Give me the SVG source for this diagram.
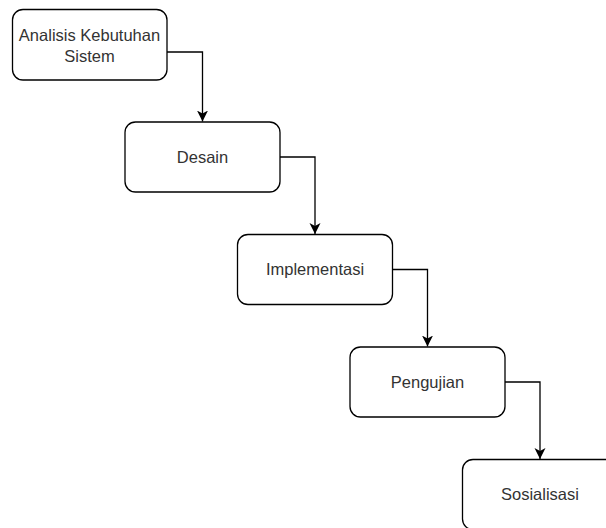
<svg xmlns="http://www.w3.org/2000/svg" width="606" height="528" viewBox="0 0 606 528">
<defs>
<style>
.box{fill:#fff;stroke:#000;stroke-width:1.3}
.lbl{font-family:"Liberation Sans",Arial,sans-serif;font-size:16.5px;fill:#333;text-anchor:middle}
.edge{fill:none;stroke:#000;stroke-width:1.3}
</style>
<marker id="arr" markerUnits="userSpaceOnUse" markerWidth="14" markerHeight="14" viewBox="0 0 14 14" refX="11" refY="7" orient="auto">
<path d="M0,1.5 L11,7 L0,12.5 L3,7 Z" fill="#000"/>
</marker>
</defs>
<rect width="606" height="528" fill="#fff"/>
<g id="n1"><rect class="box" x="12.5" y="9.5" width="154.5" height="70.5" rx="10.5"/><text class="lbl" x="89.5" y="41">Analisis Kebutuhan</text><text class="lbl" x="89.5" y="61.5">Sistem</text></g>
<g id="n2"><rect class="box" x="125" y="122" width="155" height="70" rx="10.5"/><text class="lbl" x="202.5" y="162.5">Desain</text></g>
<g id="n3"><rect class="box" x="237.5" y="234.5" width="155" height="70" rx="10.5"/><text class="lbl" x="315" y="275">Implementasi</text></g>
<g id="n4"><rect class="box" x="350" y="347" width="155" height="70" rx="10.5"/><text class="lbl" x="427.5" y="387.5">Pengujian</text></g>
<g id="n5"><rect class="box" x="462.5" y="459.5" width="155" height="70" rx="10.5"/><text class="lbl" x="540" y="500">Sosialisasi</text></g>
<g id="edges">
<path class="edge" d="M167,52 H202.5 V121.5" marker-end="url(#arr)"/>
<path class="edge" d="M280,157 H315 V234" marker-end="url(#arr)"/>
<path class="edge" d="M392.5,269.5 H427.5 V346.5" marker-end="url(#arr)"/>
<path class="edge" d="M505,382 H540 V459" marker-end="url(#arr)"/>
</g>
</svg>
